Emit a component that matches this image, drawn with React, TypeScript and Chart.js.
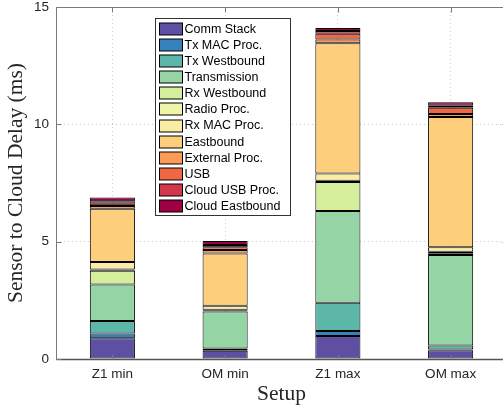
import React, { useEffect, useRef } from "react";
import { Chart, registerables } from "chart.js";
Chart.register(...registerables);

const categories = ["Z1 min", "OM min", "Z1 max", "OM max"];
const yTickValues = [0, 5, 10, 15];

const seriesNames = [
  "Comm Stack",
  "Tx MAC Proc.",
  "Tx Westbound",
  "Transmission",
  "Rx Westbound",
  "Radio Proc.",
  "Rx MAC Proc.",
  "Eastbound",
  "External Proc.",
  "USB",
  "Cloud USB Proc.",
  "Cloud Eastbound",
];

const commStack = [0.88, 0.35, 0.98, 0.37];
const txMacProc = [0.21, 0.03, 0.21, 0.04];
const txWestbound = [0.53, 0.07, 1.21, 0.16];
const transmission = [1.56, 1.57, 3.91, 3.86];
const rxWestbound = [0.58, 0.04, 1.23, 0.06];
const radioProc = [0.05, 0.04, 0.06, 0.08];
const rxMacProc = [0.32, 0.17, 0.3, 0.19];
const eastbound = [2.27, 2.23, 5.55, 5.55];
const externalProc = [0.12, 0.14, 0.17, 0.13];
const usb = [0.1, 0.12, 0.24, 0.27];
const cloudUsbProc = [0.1, 0.1, 0.12, 0.08];
const cloudEastbound = [0.16, 0.17, 0.12, 0.15];

const seriesValues = [
  commStack,
  txMacProc,
  txWestbound,
  transmission,
  rxWestbound,
  radioProc,
  rxMacProc,
  eastbound,
  externalProc,
  usb,
  cloudUsbProc,
  cloudEastbound,
];

const seriesColors = [
  "#5E4FA2",
  "#3682BA",
  "#5CB7A9",
  "#95D4A4",
  "#D5EE9B",
  "#EEF4A9",
  "#F9ECA5",
  "#FDCE7B",
  "#FA9B58",
  "#F06744",
  "#D1384E",
  "#9E0142",
];

const SANS = "'Liberation Sans', Arial, sans-serif";
const SERIF = "'Liberation Serif', 'Times New Roman', serif";

const matlabAxes = {
  id: "matlabAxes",
  afterDraw(chart: any) {
    const { ctx, chartArea: a, scales } = chart;
    const xs = scales.x;
    const ys = scales.y;
    const L = Math.round(a.left) + 0.5;
    const R = Math.round(a.right) + 0.5;
    const T = Math.round(a.top) + 0.5;
    const B = Math.round(a.bottom) + 0.5;
    ctx.save();
    ctx.strokeStyle = "#7a7a7a";
    ctx.lineWidth = 1;
    ctx.beginPath();
    ctx.moveTo(L, T);
    ctx.lineTo(R, T);
    ctx.lineTo(R, B);
    ctx.moveTo(L, T);
    ctx.lineTo(L, B);
    ctx.stroke();
    ctx.strokeStyle = "#555";
    ctx.lineWidth = 1.5;
    ctx.beginPath();
    ctx.moveTo(L, B);
    ctx.lineTo(R, B);
    ctx.stroke();
    // inward ticks
    ctx.strokeStyle = "#7a7a7a";
    ctx.lineWidth = 1;
    const tl = 5;
    ctx.beginPath();
    yTickValues.forEach((v) => {
      const py = Math.round(ys.getPixelForValue(v)) + 0.5;
      ctx.moveTo(L, py);
      ctx.lineTo(L + tl, py);
      ctx.moveTo(R, py);
      ctx.lineTo(R - tl, py);
    });
    categories.forEach((_, i) => {
      const px = Math.round(xs.getPixelForValue(i)) + 0.5;
      ctx.moveTo(px, B);
      ctx.lineTo(px, B - tl);
      ctx.moveTo(px, T);
      ctx.lineTo(px, T + tl);
    });
    ctx.stroke();

    // legend inside the axes
    const lx = Math.round(a.left) + 99.5;
    const ly = Math.round(a.top) + 11.5;
    const lw = 135;
    const lh = 197;
    ctx.fillStyle = "#fff";
    ctx.fillRect(lx, ly, lw, lh);
    ctx.strokeStyle = "#333";
    ctx.lineWidth = 1;
    ctx.strokeRect(lx, ly, lw, lh);
    ctx.font = `12.5px ${SANS}`;
    ctx.textBaseline = "middle";
    ctx.textAlign = "left";
    chart.data.datasets.forEach((ds: any, i: number) => {
      const cy = ly + 10.8 + i * 16.04;
      const sy = Math.round(cy - 6);
      ctx.fillStyle = ds.backgroundColor;
      ctx.fillRect(lx + 4, sy, 23, 12);
      ctx.strokeStyle = "#000";
      ctx.strokeRect(lx + 4, sy, 23, 12);
      ctx.fillStyle = "#000";
      ctx.fillText(ds.label, lx + 29, cy + 0.5);
    });
    ctx.restore();
  },
};

export default function App() {
  const ref = useRef<HTMLCanvasElement | null>(null);
  useEffect(() => {
    if (!ref.current) return;
    const chart = new Chart(ref.current, {
      type: "bar",
      data: {
        labels: categories,
        datasets: seriesNames.map((name, i) => ({
          label: name,
          data: seriesValues[i],
          backgroundColor: seriesColors[i],
          borderColor: "#000",
          borderWidth: 1,
          borderSkipped: false as any,
          barPercentage: 0.4,
          categoryPercentage: 1,
        })),
      },
      options: {
        animation: false,
        responsive: false,
        devicePixelRatio: 1,
        layout: { padding: { top: 7, right: 0, left: 0, bottom: 0 } },
        plugins: {
          legend: { display: false },
          tooltip: { enabled: false },
        },
        scales: {
          x: {
            stacked: true,
            offset: true,
            afterFit: (s: any) => {
              s.height = 50;
              s.paddingLeft = 0;
              s.paddingRight = 0;
            },
            grid: {
              offset: false,
              drawTicks: false,
              color: "#cccccc",
              lineWidth: 1,
            },
            border: { display: false, dash: [1, 3] },
            ticks: {
              padding: 7,
              color: "#262626",
              font: { family: SANS, size: 13.5 },
            },
            title: {
              display: true,
              text: "Setup",
              color: "#262626",
              font: { family: SERIF, size: 21.5 },
              padding: { top: 3, bottom: 2 },
            },
          },
          y: {
            stacked: true,
            min: 0,
            max: 15,
            afterFit: (s: any) => {
              s.width = 56;
              s.paddingTop = 0;
              s.paddingBottom = 0;
            },
            ticks: {
              stepSize: 5,
              padding: 7,
              color: "#262626",
              font: { family: SANS, size: 13.5 },
            },
            grid: {
              drawTicks: false,
              color: "#cccccc",
              lineWidth: 1,
            },
            border: { display: false, dash: [1, 3] },
            title: {
              display: true,
              text: "Sensor to Cloud Delay (ms)",
              color: "#262626",
              font: { family: SERIF, size: 21.5 },
              padding: { top: 3, bottom: 3 },
            },
          },
        },
      },
      plugins: [matlabAxes],
    });
    return () => chart.destroy();
  }, []);
  return (
    <div
      style={{
        position: "fixed",
        left: 0,
        top: 0,
        width: 503,
        height: 409,
        overflow: "hidden",
        background: "#fff",
      }}
    >
      <canvas ref={ref} width={507} height={409} style={{ display: "block" }} />
    </div>
  );
}
